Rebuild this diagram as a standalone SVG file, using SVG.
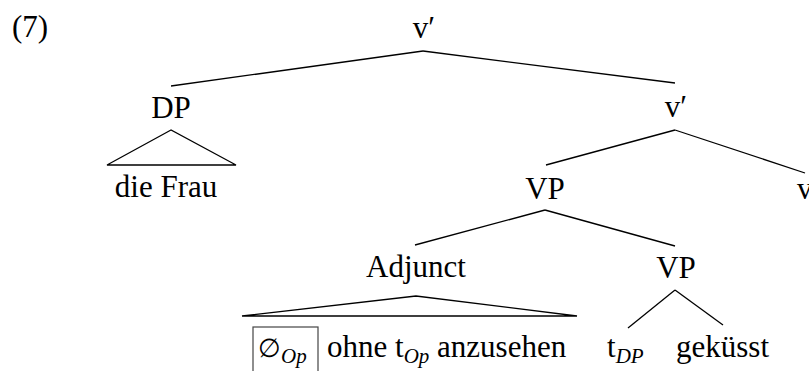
<svg xmlns="http://www.w3.org/2000/svg" width="809" height="371" viewBox="0 0 809 371">
<style>
text{font-family:'Liberation Serif','Times New Roman',serif;font-size:31px;fill:#000}
.c{text-anchor:middle}
.sub{font-style:italic;font-size:21px}
.e{stroke:#000;stroke-width:1.3;fill:none}
.box{stroke:#444;stroke-width:1.2;fill:none}
</style>
<rect width="809" height="371" fill="#fff"/>
<g font-family="Liberation Serif, Times New Roman, serif">
<text x="12" y="37">(7)</text>
<g id="connectors">
<line class="e" x1="423" y1="51" x2="171" y2="86"/>
<line class="e" x1="423" y1="51" x2="675" y2="83"/>
<polygon class="e" points="171,130 107,165 236,165"/>
<line class="e" x1="675" y1="130" x2="546" y2="165"/>
<line class="e" x1="675" y1="130" x2="805" y2="173"/>
<line class="e" x1="545" y1="210" x2="415" y2="245"/>
<line class="e" x1="545" y1="210" x2="675" y2="246"/>
<polygon class="e" points="416,296 242,316 577,316"/>
<line class="e" x1="675" y1="290" x2="628" y2="328"/>
<line class="e" x1="675" y1="290" x2="723" y2="325"/>
</g>
<g id="n-vbar-top"><text class="c" x="424" y="38">v′</text></g>
<g id="n-dp"><text class="c" x="171" y="118">DP</text></g>
<g id="n-diefrau"><text class="c" x="166" y="197">die Frau</text></g>
<g id="n-vbar"><text class="c" x="676" y="117">v′</text></g>
<g id="n-vp1"><text class="c" x="545" y="199">VP</text></g>
<g id="n-v"><text x="797" y="199">v</text></g>
<g id="n-adjunct"><text class="c" x="416" y="277">Adjunct</text></g>
<g id="n-vp2"><text class="c" x="676" y="278">VP</text></g>
<g id="n-adj-content">
<rect class="box" x="253" y="327" width="65" height="50"/>
<text x="258" y="357"><tspan style="font-family:'DejaVu Serif',serif;font-size:26px">∅</tspan><tspan class="sub" x="281" dy="6">Op</tspan></text>
<text x="327" y="357">ohne t<tspan class="sub" dy="6">Op</tspan><tspan dy="-6"> anzusehen</tspan></text>
</g>
<g id="n-tdp"><text x="607" y="357">t<tspan class="sub" dy="6">DP</tspan></text></g>
<g id="n-gekusst"><text x="676" y="357">geküsst</text></g>
</g>
</svg>
